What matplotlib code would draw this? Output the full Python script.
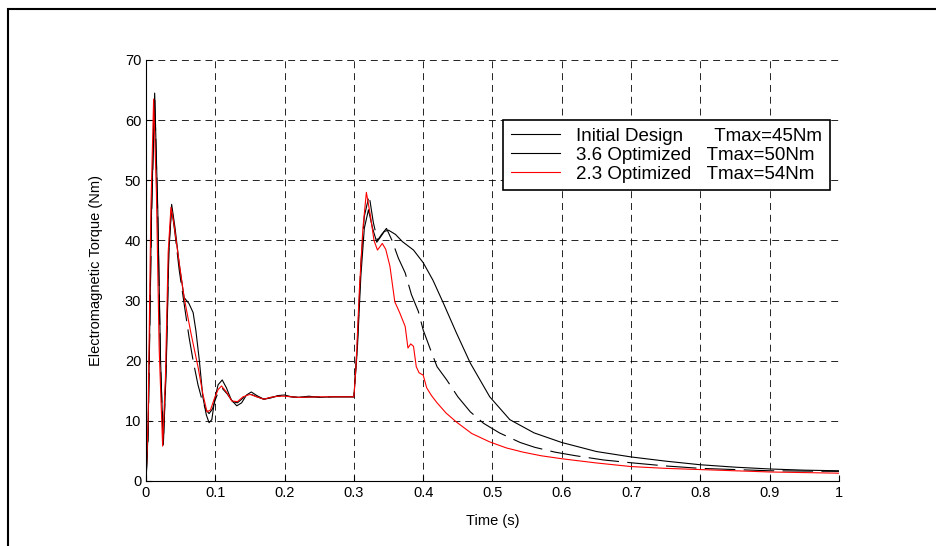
import numpy as np
import matplotlib.pyplot as plt
from matplotlib.lines import Line2D
from matplotlib.patches import Rectangle

plt.rcParams['font.family'] = ['Liberation Sans', 'DejaVu Sans']
plt.rcParams['lines.scale_dashes'] = False

# Initial design (solid black)
t_init = [0, 0.003, 0.008, 0.0125, 0.017, 0.021, 0.025, 0.029, 0.033, 0.037,
          0.042, 0.048, 0.055, 0.062, 0.068, 0.072, 0.077, 0.082, 0.087, 0.091,
          0.095, 0.099, 0.104, 0.11, 0.116, 0.123, 0.131, 0.138, 0.145, 0.152,
          0.16, 0.17, 0.18, 0.19, 0.2, 0.21, 0.22, 0.235, 0.25, 0.27, 0.3,
          0.305, 0.31, 0.315, 0.321, 0.327, 0.333, 0.338, 0.344, 0.35, 0.36,
          0.37, 0.386, 0.4, 0.414, 0.429, 0.448, 0.468, 0.496, 0.525, 0.56,
          0.6, 0.65, 0.7, 0.75, 0.8, 0.85, 0.9, 0.95, 1.0]
T_init = [0, 8, 45, 64.5, 45, 20, 6, 18, 38, 46,
          42, 36, 30.5, 29.5, 28, 25, 20, 14, 11, 9.7,
          10.2, 13.5, 16, 16.8, 15.5, 13.5, 12.5, 13, 14.3, 14.8,
          14.2, 13.6, 13.8, 14.2, 14.3, 14, 13.9, 14.1, 13.9, 14, 14,
          22, 34, 42, 45.1, 42, 39.7, 40.5, 41.5, 41.7, 41,
          39.8, 38.4, 36.3, 33.4, 29.6, 24.6, 19.6, 14.0, 10.2, 8.0,
          6.4, 4.9, 4.0, 3.3, 2.7, 2.3, 2.0, 1.8, 1.7]

# 3.6 optimized (dashed black)
t_36 = [0, 0.003, 0.008, 0.0125, 0.017, 0.021, 0.025, 0.029, 0.033, 0.037,
        0.042, 0.048, 0.055, 0.062, 0.068, 0.075, 0.082, 0.087, 0.091, 0.096,
        0.1, 0.105, 0.11, 0.117, 0.125, 0.132, 0.14, 0.15, 0.16, 0.17,
        0.18, 0.19, 0.2, 0.22, 0.25, 0.3,
        0.305, 0.31, 0.315, 0.322, 0.328, 0.334, 0.34, 0.347, 0.355, 0.364,
        0.374, 0.383, 0.393, 0.40, 0.41, 0.42, 0.434, 0.45, 0.468, 0.487,
        0.51, 0.54, 0.561, 0.59, 0.62, 0.66, 0.703, 0.75, 0.8, 0.85,
        0.9, 0.95, 1.0]
T_36 = [0, 7, 44, 64, 44, 19, 6.5, 19, 39, 45.5,
        41, 35, 29.5, 24, 20, 16, 13, 11.8, 11.2, 12,
        13.5, 15, 15.4, 14.5, 13.2, 13, 13.8, 14.5, 14, 13.6,
        13.9, 14.1, 14.1, 13.9, 14, 14,
        23, 36, 44, 47.5, 43, 40, 41, 42, 40, 37.1,
        34.6, 31, 28.2, 25.1, 22, 19, 16.8, 14, 11.5, 9.6,
        8, 6.4, 5.6, 4.8, 4.2, 3.5, 3.0, 2.5, 2.1, 1.9,
        1.7, 1.65, 1.6]

# 2.3 optimized (red)
t_23 = [0, 0.003, 0.007, 0.011, 0.015, 0.019, 0.024, 0.028, 0.032, 0.036,
        0.04, 0.047, 0.055, 0.065, 0.075, 0.082, 0.088, 0.093, 0.098, 0.104,
        0.109, 0.116, 0.124, 0.132, 0.14, 0.15, 0.16, 0.17, 0.18, 0.19,
        0.2, 0.22, 0.25, 0.3,
        0.303, 0.308, 0.313, 0.318, 0.324, 0.329, 0.334, 0.341, 0.346, 0.352,
        0.359, 0.366, 0.374, 0.378, 0.382, 0.386, 0.39, 0.394, 0.40, 0.405,
        0.412, 0.42, 0.433, 0.448, 0.47, 0.496, 0.52, 0.544, 0.57, 0.6,
        0.65, 0.7, 0.75, 0.8, 0.85, 0.9, 0.95, 1.0]
T_23 = [0, 10, 45, 63.5, 48, 22, 5.8, 17, 38, 45.5,
        43, 37, 30.5, 24.5, 19, 14.5, 11.5, 11.8, 13.5, 15.2,
        15.8, 14.8, 13.3, 13.2, 14, 14.4, 14, 13.6, 13.9, 14.1,
        14.1, 13.9, 14, 14,
        19, 32, 42, 48, 44, 40, 38.4, 39.5, 38.5, 35.7,
        29.8, 28, 25.7, 22.1, 22.8, 22.4, 19, 18, 17.6, 15.5,
        14.2, 13, 11.3, 9.8, 7.9, 6.5, 5.5, 4.8, 4.2, 3.7,
        3.0, 2.4, 2.1, 1.9, 1.7, 1.5, 1.4, 1.3]

labels = ['Initial Design      Tmax=45Nm',
          '3.6 Optimized   Tmax=50Nm',
          '2.3 Optimized   Tmax=54Nm']

fig = plt.figure(figsize=(9.37, 5.46), dpi=100)
ax = fig.add_axes([146/937, 1-481/546, (839-146)/937, (481-60)/546])

ax.plot(t_init, T_init, color='k', lw=0.8)
ax.plot(t_36, T_36, color='k', lw=0.8, dashes=(22, 6))
ax.plot(t_23, T_23, color='red', lw=0.8)

ax.set_xlim(0, 1)
ax.set_ylim(0, 70)
ax.set_xticks(np.arange(0, 1.01, 0.1))
ax.set_xticklabels(['0', '0.1', '0.2', '0.3', '0.4', '0.5', '0.6', '0.7', '0.8', '0.9', '1'])
ax.set_yticks(np.arange(0, 71, 10))
ax.tick_params(direction='in', length=4, labelsize=10.5, width=0.8)
ax.grid(True, color='k', lw=0.6, dashes=(5, 3.5))
ax.spines['top'].set_visible(False)
ax.spines['right'].set_visible(False)
ax.set_xlabel('Time (s)', fontsize=10.5, labelpad=10)
ax.set_ylabel('Electromagnetic Torque (Nm)', fontsize=10.5, labelpad=16)

# legend shows solid samples for all three entries
handles = [Line2D([], [], color='k', lw=0.8),
           Line2D([], [], color='k', lw=0.8),
           Line2D([], [], color='red', lw=0.8)]
leg = ax.legend(handles, labels, loc='upper right',
                bbox_to_anchor=(830/937, 1-120/546),
                bbox_transform=fig.transFigure, fontsize=13.5, fancybox=False,
                framealpha=1, edgecolor='k', borderpad=0.4, labelspacing=0.1,
                handlelength=2.6, handletextpad=0.9, borderaxespad=0)
leg.get_frame().set_linewidth(1.2)

fig.add_artist(Rectangle((8/937, -0.2), 2, 1.2 - 9/546, transform=fig.transFigure,
                         fill=False, lw=1.5, edgecolor='k'))

fig.savefig('out.png', dpi=100)
